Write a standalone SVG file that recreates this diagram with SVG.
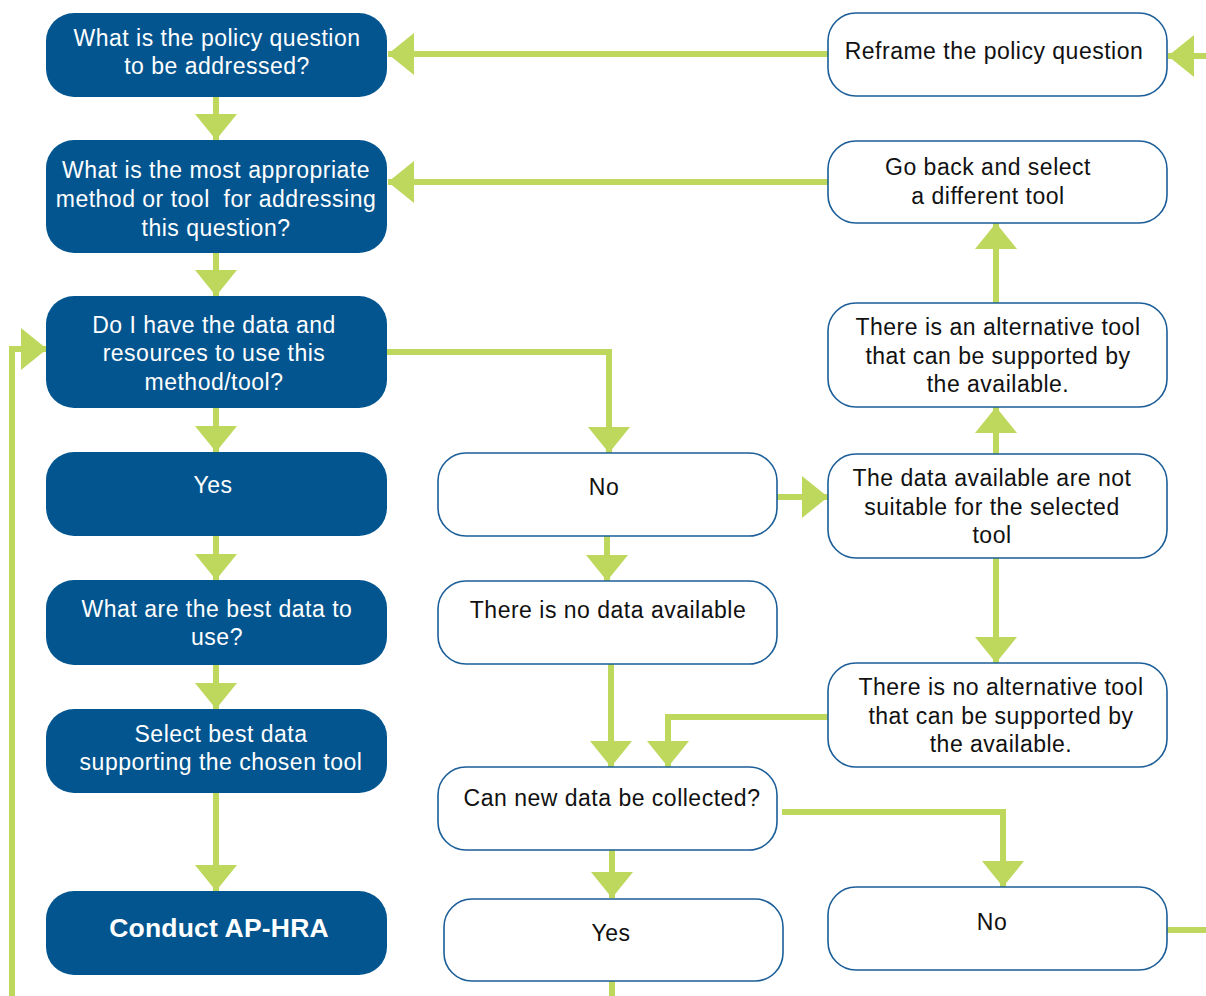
<svg xmlns="http://www.w3.org/2000/svg" width="1206" height="996" viewBox="0 0 1206 996">
<style>
.dark{fill:#03558f}
.light{fill:#fff;stroke:#1b5e98;stroke-width:1.6}
.tw{fill:#fff;font-family:"Liberation Sans",Arial,sans-serif;font-size:23px;letter-spacing:0.5px;text-anchor:middle;white-space:pre}
.tb{fill:#111;font-family:"Liberation Sans",Arial,sans-serif;font-size:23px;letter-spacing:0.5px;text-anchor:middle}
.bold{font-weight:bold;font-size:26.5px;letter-spacing:0.2px}
.c{fill:none;stroke:#bdd85c;stroke-width:6;marker-end:url(#ah)}
.cn{fill:none;stroke:#bdd85c;stroke-width:6}
</style>
<defs>
<marker id="ah" markerUnits="userSpaceOnUse" viewBox="0 0 26 42" refX="26" refY="21" markerWidth="26" markerHeight="42" orient="auto">
<path d="M0,0 L26,21 L0,42 Z" fill="#bdd85c"/>
</marker>
</defs>
<g id="connectors">
<path class="c" d="M828,54 H388"/>
<path class="c" d="M1206,56 H1168"/>
<path class="c" d="M828,182 H388"/>
<path class="c" d="M216,97 V140"/>
<path class="c" d="M216,253 V296"/>
<path class="c" d="M216,408 V452"/>
<path class="c" d="M387,352 H609 V453"/>
<path class="c" d="M216,536 V580"/>
<path class="c" d="M216,665 V709"/>
<path class="c" d="M216,793 V891"/>
<path class="c" d="M12,996 V349 H47"/>
<path class="c" d="M777,497 H828"/>
<path class="c" d="M607,536 V581"/>
<path class="c" d="M996,454 V407"/>
<path class="c" d="M996,303 V223"/>
<path class="c" d="M996,558 V663"/>
<path class="c" d="M611,664 V767"/>
<path class="c" d="M828,717 H668 V767"/>
<path class="c" d="M782,812 H1003 V887"/>
<path class="c" d="M612,850 V898"/>
<path class="cn" d="M612,981 V996"/>
<path class="cn" d="M1167,930 H1206"/>
</g>
<g id="n1"><rect class="dark" x="46" y="13" width="341" height="84" rx="28"/><text class="tw" x="217" y="46">What is the policy question</text><text class="tw" x="217" y="74">to be addressed?</text></g>
<g id="n2"><rect class="dark" x="46" y="140" width="341" height="113" rx="28"/><text class="tw" x="216" y="178">What is the most appropriate</text><text class="tw" x="216" y="207" xml:space="preserve">method or tool  for addressing</text><text class="tw" x="216" y="236">this question?</text></g>
<g id="n3"><rect class="dark" x="46" y="296" width="341" height="112" rx="28"/><text class="tw" x="214" y="333">Do I have the data and</text><text class="tw" x="214" y="361">resources to use this</text><text class="tw" x="214" y="390">method/tool?</text></g>
<g id="n4"><rect class="dark" x="46" y="452" width="341" height="84" rx="28"/><text class="tw" x="213" y="493">Yes</text></g>
<g id="n5"><rect class="dark" x="46" y="580" width="341" height="85" rx="28"/><text class="tw" x="217" y="617">What are the best data to</text><text class="tw" x="217" y="645">use?</text></g>
<g id="n6"><rect class="dark" x="46" y="709" width="341" height="84" rx="28"/><text class="tw" x="221" y="742">Select best data</text><text class="tw" x="221" y="770">supporting the chosen tool</text></g>
<g id="n7"><rect class="dark" x="46" y="891" width="341" height="84" rx="28"/><text class="tw bold" x="219" y="937">Conduct AP-HRA</text></g>
<g id="r1"><rect class="light" x="828" y="13" width="339" height="83" rx="28"/><text class="tb" x="994" y="59">Reframe the policy question</text></g>
<g id="r2"><rect class="light" x="828" y="141" width="339" height="82" rx="28"/><text class="tb" x="988" y="175">Go back and select</text><text class="tb" x="988" y="204">a different tool</text></g>
<g id="r3"><rect class="light" x="828" y="303" width="339" height="104" rx="28"/><text class="tb" x="998" y="335">There is an alternative tool</text><text class="tb" x="998" y="364">that can be supported by</text><text class="tb" x="998" y="392">the available.</text></g>
<g id="r4"><rect class="light" x="828" y="454" width="339" height="104" rx="28"/><text class="tb" x="992" y="486">The data available are not</text><text class="tb" x="992" y="515">suitable for the selected</text><text class="tb" x="992" y="543">tool</text></g>
<g id="r5"><rect class="light" x="828" y="663" width="339" height="104" rx="28"/><text class="tb" x="1001" y="695">There is no alternative tool</text><text class="tb" x="1001" y="724">that can be supported by</text><text class="tb" x="1001" y="752">the available.</text></g>
<g id="r6"><rect class="light" x="828" y="887" width="339" height="83" rx="28"/><text class="tb" x="992" y="930">No</text></g>
<g id="m1"><rect class="light" x="438" y="453" width="339" height="83" rx="28"/><text class="tb" x="604" y="495">No</text></g>
<g id="m2"><rect class="light" x="438" y="581" width="339" height="83" rx="28"/><text class="tb" x="608" y="618">There is no data available</text></g>
<g id="m3"><rect class="light" x="438" y="767" width="339" height="83" rx="28"/><text class="tb" x="612" y="806">Can new data be collected?</text></g>
<g id="m4"><rect class="light" x="444" y="899" width="339" height="82" rx="28"/><text class="tb" x="611" y="941">Yes</text></g>
</svg>
